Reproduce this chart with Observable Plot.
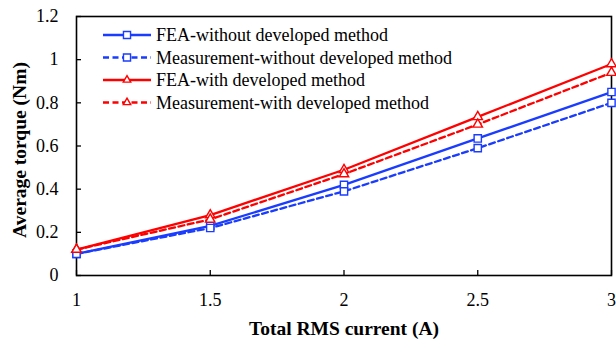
<!DOCTYPE html>
<html>
<head>
<meta charset="utf-8">
<script src="https://cdn.jsdelivr.net/npm/d3@7"></script>
<script src="https://cdn.jsdelivr.net/npm/@observablehq/plot@0.6"></script>
<style>
  body { margin: 0; background: #fff; }
  #chart svg { display: block; }
</style>
</head>
<body>
<div id="chart"></div>
<script>
// Total RMS current (A)
const current = [1, 1.5, 2, 2.5, 3];

// Average torque (Nm) for each series
const feaWithout = [0.10, 0.23, 0.42, 0.635, 0.85];
const measWithout = [0.10, 0.22, 0.39, 0.59, 0.80];
const feaWith = [0.12, 0.28, 0.49, 0.735, 0.98];
const measWith = [0.12, 0.26, 0.47, 0.70, 0.94];

const seriesNames = [
  "FEA-without developed method",
  "Measurement-without developed method",
  "FEA-with developed method",
  "Measurement-with developed method"
];
const seriesValues = [feaWithout, measWithout, feaWith, measWith];

const xTicks = [1, 1.5, 2, 2.5, 3];
const yTicks = [0, 0.2, 0.4, 0.6, 0.8, 1, 1.2];

const BLUE = "#1a3cff";
const RED = "#ff0000";
const styles = [
  {color: BLUE, dash: null, symbol: "square", r: 4.1},
  {color: BLUE, dash: "6,3.5", symbol: "square", r: 4.1},
  {color: RED, dash: null, symbol: "triangle", r: 3.5},
  {color: RED, dash: "6,3.5", symbol: "triangle", r: 3.5}
];

const rows = seriesNames.flatMap((name, i) =>
  current.map((x, j) => ({series: name, x, y: seriesValues[i][j]}))
);

const font = "'Liberation Serif', 'Times New Roman', serif";
const plain = d => `${d}`;

const lineMarks = seriesNames.map((name, i) =>
  Plot.line(rows.filter(d => d.series === name), {
    x: "x", y: "y",
    stroke: styles[i].color,
    strokeWidth: 2.3,
    strokeDasharray: styles[i].dash,
    strokeLinejoin: "round"
  })
);
const dotMarks = seriesNames.map((name, i) =>
  Plot.dot(rows.filter(d => d.series === name), {
    x: "x", y: "y",
    symbol: () => styles[i].symbol,
    r: styles[i].r,
    fill: "#fff",
    stroke: styles[i].color,
    strokeWidth: 1.4
  })
);

const chart = Plot.plot({
  width: 616,
  height: 339,
  marginLeft: 76,
  marginRight: 5,
  marginTop: 16,
  marginBottom: 64,
  style: {fontFamily: font, fontSize: "18px", color: "#000", background: "#fff"},
  x: {domain: [1, 3]},
  y: {domain: [0, 1.2]},
  symbol: {type: "identity"},
  marks: [
    // inward tick marks
    Plot.axisY(yTicks, {anchor: "left", tickSize: 5, dx: 5, tickFormat: () => "", label: null, strokeWidth: 1.3}),
    Plot.axisX(xTicks, {anchor: "bottom", tickSize: 5, dy: -5, tickFormat: () => "", label: null, strokeWidth: 1.3}),
    // tick labels
    Plot.axisY(yTicks, {anchor: "left", tickSize: 0, tickPadding: 18, tickFormat: plain, label: null, fontSize: 18}),
    Plot.axisX(xTicks, {anchor: "bottom", tickSize: 0, tickPadding: 18, tickFormat: plain, label: null, fontSize: 18}),
    Plot.frame({stroke: "#000", strokeWidth: 1.6}),
    ...lineMarks,
    ...dotMarks,
    // axis titles
    Plot.text(["Total RMS current (A)"], {
      frameAnchor: "bottom", dy: 53, text: d => d, fontWeight: "bold", fontSize: 19.5,
      textAnchor: "middle", lineAnchor: "middle"
    }),
    Plot.text(["Average torque (Nm)"], {
      frameAnchor: "left", dx: -57, dy: 4, text: d => d, rotate: -90, fontWeight: "bold", fontSize: 19.5,
      textAnchor: "middle", lineAnchor: "middle"
    })
  ]
});

// legend in the upper-left corner of the plot area
const svg = d3.select(chart);
const legend = svg.append("g").attr("class", "legend");
const legendX0 = 103, legendX1 = 151, legendTextX = 156, legendY0 = 35, legendStep = 22.5;
seriesNames.forEach((name, i) => {
  const y = legendY0 + i * legendStep;
  const s = styles[i];
  legend.append("line")
    .attr("x1", legendX0).attr("x2", legendX1).attr("y1", y).attr("y2", y)
    .attr("stroke", s.color).attr("stroke-width", 2.3)
    .attr("stroke-dasharray", s.dash);
  const sym = s.symbol === "square" ? d3.symbolSquare : d3.symbolTriangle;
  const size = s.symbol === "square" ? 50 : 24;
  legend.append("path")
    .attr("transform", `translate(${(legendX0 + legendX1) / 2},${y})`)
    .attr("d", d3.symbol(sym, size)())
    .attr("fill", "#fff").attr("stroke", s.color).attr("stroke-width", 1.4);
  legend.append("text")
    .attr("x", legendTextX).attr("y", y).attr("dy", "0.35em")
    .attr("text-anchor", "start")
    .attr("font-family", font).attr("font-size", 18)
    .attr("fill", "#000")
    .text(name);
});

document.getElementById("chart").append(chart);
</script>
</body>
</html>
